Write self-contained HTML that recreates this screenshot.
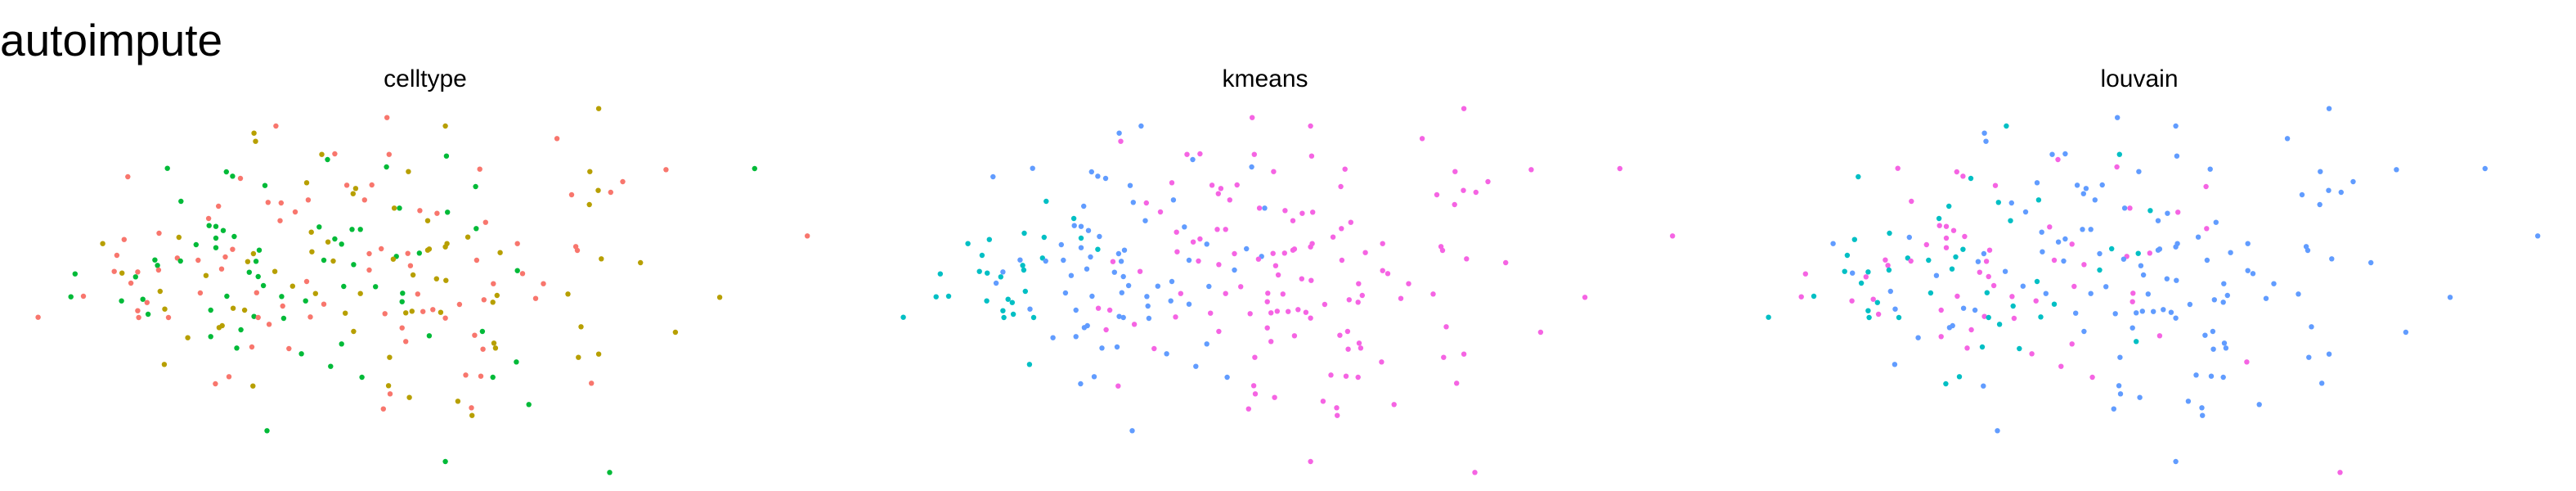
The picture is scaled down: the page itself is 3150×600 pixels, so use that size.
<!DOCTYPE html>
<html><head><meta charset="utf-8"><style>
html,body{margin:0;padding:0;background:#fff;width:3150px;height:600px;overflow:hidden}
svg{display:block}
text{font-family:"Liberation Sans",Arial,sans-serif;fill:#000}
</style></head><body>
<svg id="chart" width="3150" height="600" viewBox="0 0 3150 600" xmlns="http://www.w3.org/2000/svg">
<rect width="3150" height="600" fill="#fff"/>
<text x="0" y="68" font-size="55">autoimpute</text>
<text x="520" y="106" font-size="30" text-anchor="middle">celltype</text>
<text x="1547" y="106" font-size="30" text-anchor="middle">kmeans</text>
<text x="2616" y="106" font-size="30" text-anchor="middle">louvain</text>
<g id="p0"></g>
<g id="p1"></g>
<g id="p2"></g>
</svg>
<script>
const xVals = [1148,742,529,854,487,490,1068,617,642,746,856,628,321,741,783,920,1131,1277,1447,245,434,446,461,508,588,665,682,713,677,912,1194,1096,1147,1171,347,419,514,539,591,699,1130,566,756,766,805,838,858,400,537,820,931,401,414,428,612,675,691,913,305,597,238,343,414,449,642,897,1548,197,376,414,446,497,629,655,731,820,823,854,857,992,1104,1107,224,340,297,346,380,432,486,475,491,598,621,639,708,760,782,804,959,754,914,1153,1228,302,787,678,144,219,234,264,304,260,425,395,478,495,527,708,792,837,855,992,1002,251,505,561,588,659,720,946,1042,136,160,307,384,435,492,540,605,691,772,801,953,1089,1380,233,274,282,586,771,928,945,1027,542,621,881,264,316,447,469,404,284,73,266,323,487,495,544,595,662,738,778,790,811,830,845,854,516,420,426,771,1114,1295,462,678,925,360,404,910,823,778,947,454,483,554,655,926,950,578,747,1109,1148,990,315,634,439,413,694,893,922,945,1134,485,745,748,785,878,904,735,1014,905,512,854,1169];
const yVals = [98,131,162,162,188,218,208,266,264,266,272,285,317,312,329,320,329,322,318,348,330,346,354,380,370,379,391,378,410,384,366,414,398,405,438,456,442,444,433,433,450,477,463,463,472,482,478,501,509,509,515,527,530,545,532,541,541,538,555,551,578,570,573,567,576,569,565,593,597,608,614,617,587,595,612,617,613,605,593,593,604,618,636,646,653,657,654,642,630,659,658,623,654,657,630,640,629,628,626,650,654,649,663,673,674,670,704,695,701,697,690,715,686,710,698,714,695,690,708,722,728,692,703,738,747,749,732,750,751,740,740,788,786,768,774,786,773,787,776,776,775,778,783,778,790,803,797,809,803,806,799,808,794,822,815,816,839,833,830,837,837,852,863,864,864,860,864,867,862,848,850,847,841,842,835,845,866,889,901,894,902,898,918,909,915,915,938,934,929,931,952,958,976,972,978,961,980,976,997,1010,1010,998,1027,1036,1043,1081,1107,1083,1075,1079,1083,1105,1115,1114,1144,1157,1171,1195,1199,1183,1223,1279,1392,1432];
const celltypeGroups = "o r r o o o r o r r g g g g o r o r g r g g r g o r o r o g r r o r g r r r r r o r o g r r g r r o r g g g g g g g r o r o g g g o r o g g r g o g r o o o o r r r r r g g r r o o g o g o r g r g o o r o o g r g g r o r r g r o g g o r o o o g r r g o r g g r r g r o r g r g o o g r o o o g g r g g r o r r r r r o o o g g r r r g r g r o r o o r r o r r o o r o o g o g o g r g r o g r r g r o g o o o g o g r r g r r g r o o r o o r r g o g g g".split(" ");
const kmeansGroups = "m m b m b m m m m m m b b b m m m m m b b b b b m m m m m m m m m m c b b m b m m m m b m m m c b m m b b b b m m m c m c c c b m m m c b b c b m b b m m m m m m m c c b b b b b m b m b m m b m m m m m m m c m m c c c b c c b b b b m b m m m m m b b b b b m m m c c c b b b b m m m m m m m c c c b m m m m b b m c b m m b c c c c b b b m m m m m m m m m m b b m m m m m m b b m m m m b b m b m m b m m m m c b b b b m m m m m m m m m m m m m b m m".split(" ");
const louvainGroups = "b b c b b b b b b c b m m m b b b b b c m m c m b b b b b m b b b b m c c b c b b b b m c b m c c b b m m m m b b m c b c b m m b b b b m m c m b m c b b b b b b b c c m m c c b b m b m b b m c m b b b b b m b m m c b c c m c b m m b c b b b b b c m b c m b b b m c b c m c m b b m b b b b m m c m m b b b c c b c b b b m m c c c m c m c b b b b b b b b c b b b b b m b b b m b m c b m c c m b b m b b b m b m c c m b b b b b b b b b b b b b b b m b b".split(" ");
const panelLabels = ["celltype","kmeans","louvain"];
const palette = {r:"#F8766D",o:"#B79F00",g:"#00BA38",c:"#00BFC4",b:"#619CFF",m:"#F564E3"};
const panelOffset = [0,1058,2116];
function xScale(v,p){return panelOffset[p] + v/1.568;}
function yScale(v){return 100 + v/3;}
const NS="http://www.w3.org/2000/svg";
const groups=[celltypeGroups,kmeansGroups,louvainGroups];
for(let p=0;p<3;p++){
  const g=document.getElementById("p"+p);
  for(let i=0;i<xVals.length;i++){
    const c=document.createElementNS(NS,"circle");
    c.setAttribute("cx",xScale(xVals[i],p).toFixed(1));
    c.setAttribute("cy",yScale(yVals[i]).toFixed(1));
    c.setAttribute("r","3.2");
    c.setAttribute("fill",palette[groups[p][i]]||"#619CFF");
    
    
    g.appendChild(c);
  }
}
</script>
</body></html>
